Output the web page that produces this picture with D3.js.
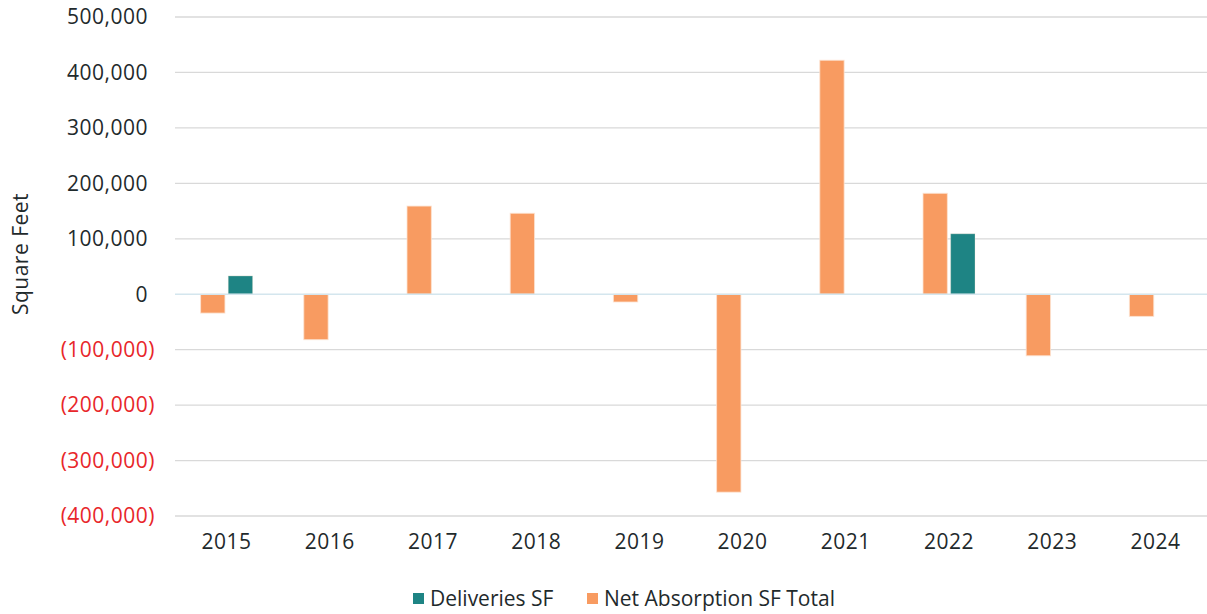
<!DOCTYPE html>
<html>
<head>
<meta charset="utf-8">
<script src="https://cdn.jsdelivr.net/npm/d3@7"></script>
<style>
  body { margin: 0; background: #fff; }
  #chart { width: 1207px; height: 614px; }
  text { font-family: "Open Sans", Lato, sans-serif; letter-spacing: 0.5px; }
  .legendText { letter-spacing: 0; }
</style>
</head>
<body>
<div id="chart"></div>
<script>
// Data
var years = ["2015", "2016", "2017", "2018", "2019", "2020", "2021", "2022", "2023", "2024"];
var seriesNames = ["Net Absorption SF Total", "Deliveries SF"];
var absorption = [-34000, -82000, 159000, 146000, -14000, -357000, 422000, 182000, -111000, -40000];
var deliveries = [33000, 0, 0, 0, 0, 0, 0, 109000, 0, 0];
var yTicks = [-400000, -300000, -200000, -100000, 0, 100000, 200000, 300000, 400000, 500000];

// General settings
var width = 1207, height = 614;
var margin = {top: 17, right: 0, bottom: 98, left: 175};
var svg = d3.select("#chart").append("svg")
    .attr("width", width)
    .attr("height", height);

var colors = {"Net Absorption SF Total": "#f89b61", "Deliveries SF": "#1e8484"};

var x = d3.scaleBand()
    .domain(years)
    .range([margin.left, width - margin.right]);

var y = d3.scaleLinear()
    .domain([-400000, 500000])
    .range([height - margin.bottom, margin.top]);

var xInner = d3.scaleBand()
    .domain(seriesNames)
    .range([x.bandwidth() / 2 - 26, x.bandwidth() / 2 + 26])
    .paddingInner(0.12);

// Gridlines
svg.append("g").selectAll("line")
    .data(yTicks.filter(function (d) { return d !== 0; }))
    .enter().append("line")
    .attr("x1", margin.left)
    .attr("x2", width - margin.right)
    .attr("y1", function (d) { return y(d); })
    .attr("y2", function (d) { return y(d); })
    .attr("stroke", "#d9d9d9")
    .attr("stroke-width", 1.3);

// Y labels
function fmt(d) {
    var s = d3.format(",")(Math.abs(d));
    return d < 0 ? "(" + s + ")" : s;
}
svg.append("g").selectAll("text")
    .data(yTicks)
    .enter().append("text")
    .attr("x", function (d) { return d < 0 ? 155 : 148; })
    .attr("y", function (d) { return y(d); })
    .attr("dy", "0.35em")
    .attr("text-anchor", "end")
    .attr("font-size", 21)
    .attr("fill", function (d) { return d < 0 ? "#e8262a" : "#1f2a2c"; })
    .text(fmt);

// Bars
var rows = years.map(function (yr, i) {
    return {year: yr, values: [
        {name: seriesNames[0], value: absorption[i]},
        {name: seriesNames[1], value: deliveries[i]}
    ]};
});

var groups = svg.append("g").selectAll("g")
    .data(rows)
    .enter().append("g")
    .attr("transform", function (d) { return "translate(" + x(d.year) + ",0)"; });

groups.selectAll("rect")
    .data(function (d) { return d.values.filter(function (v) { return v.value !== 0; }); })
    .enter().append("rect")
    .attr("x", function (d) { return xInner(d.name); })
    .attr("width", xInner.bandwidth())
    .attr("y", function (d) { return y(Math.max(0, d.value)); })
    .attr("height", function (d) { return Math.abs(y(d.value) - y(0)); })
    .attr("fill", function (d) { return colors[d.name]; })
    .attr("stroke", "#fde3d2")
    .attr("stroke-opacity", function (d) { return d.name === "Deliveries SF" ? 0.3 : 0.8; })
    .attr("stroke-width", 1);

// Zero line
svg.append("line")
    .attr("x1", margin.left)
    .attr("x2", width - margin.right)
    .attr("y1", y(0))
    .attr("y2", y(0))
    .attr("stroke", "#d4e6ee")
    .attr("stroke-width", 1.5);

// X labels
svg.append("g").selectAll("text")
    .data(years)
    .enter().append("text")
    .attr("x", function (d) { return x(d) + x.bandwidth() / 2; })
    .attr("y", 549)
    .attr("text-anchor", "middle")
    .attr("font-size", 21)
    .attr("fill", "#1f2a2c")
    .text(function (d) { return d; });

// Axis title
svg.append("text")
    .attr("transform", "translate(28," + 254 + ") rotate(-90)")
    .attr("text-anchor", "middle")
    .attr("font-size", 21)
    .attr("fill", "#1f2a2c")
    .text("Square Feet");

// Legend
var legendItems = [
    {name: "Deliveries SF", x: 413},
    {name: "Net Absorption SF Total", x: 587}
];
var legend = svg.append("g").selectAll("g")
    .data(legendItems)
    .enter().append("g")
    .attr("transform", function (d) { return "translate(" + d.x + ",593)"; });
legend.append("rect")
    .attr("width", 11)
    .attr("height", 11)
    .attr("fill", function (d) { return colors[d.name]; });
legend.append("text")
    .attr("class", "legendText")
    .attr("x", 17)
    .attr("y", 6)
    .attr("dy", "0.35em")
    .attr("font-size", 21)
    .attr("fill", "#1f2a2c")
    .text(function (d) { return d.name; });
</script>
</body>
</html>
